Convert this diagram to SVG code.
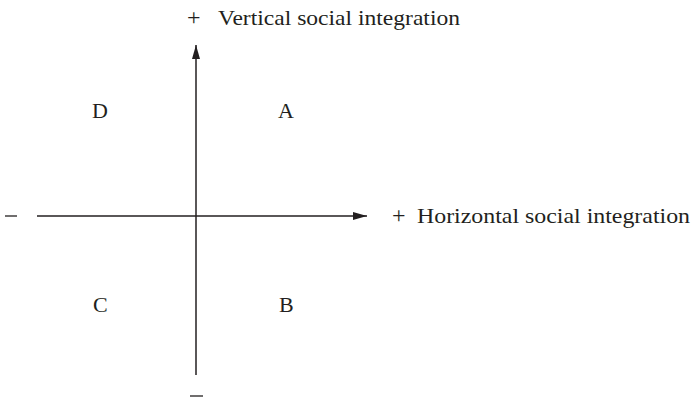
<svg xmlns="http://www.w3.org/2000/svg" width="692" height="401" viewBox="0 0 692 401">
<style>
text{font-family:"Liberation Serif","Times New Roman",serif;font-size:22px;fill:#231f20}
.pl{font-size:24px}
.ax{stroke:#231f20;stroke-width:1.5;fill:none}
</style>
<defs>
<marker id="ah" viewBox="0 0 14 8" refX="14" refY="4" markerWidth="14" markerHeight="8" markerUnits="userSpaceOnUse" orient="auto">
<path d="M0,0 L14,4 L0,8 Z" fill="#231f20"/>
</marker>
</defs>
<g id="connectors">
<line class="ax" x1="37" y1="216" x2="367" y2="216" marker-end="url(#ah)"/>
<line class="ax" x1="196" y1="375" x2="196" y2="45" marker-end="url(#ah)"/>
</g>
<g id="labels">
<text class="pl" x="187" y="25">+</text>
<text x="218" y="25" textLength="242" lengthAdjust="spacingAndGlyphs">Vertical social integration</text>
<text class="pl" x="392" y="223">+</text>
<text x="417" y="223" textLength="273" lengthAdjust="spacingAndGlyphs">Horizontal social integration</text>
<line x1="5" y1="216" x2="17" y2="216" stroke="#231f20" stroke-width="1.3"/>
<line x1="190" y1="396" x2="203" y2="396" stroke="#231f20" stroke-width="1.3"/>
</g>
<g id="D"><text x="92" y="118">D</text></g>
<g id="A"><text x="278" y="118">A</text></g>
<g id="C"><text x="93" y="312">C</text></g>
<g id="B"><text x="279" y="312">B</text></g>
</svg>
